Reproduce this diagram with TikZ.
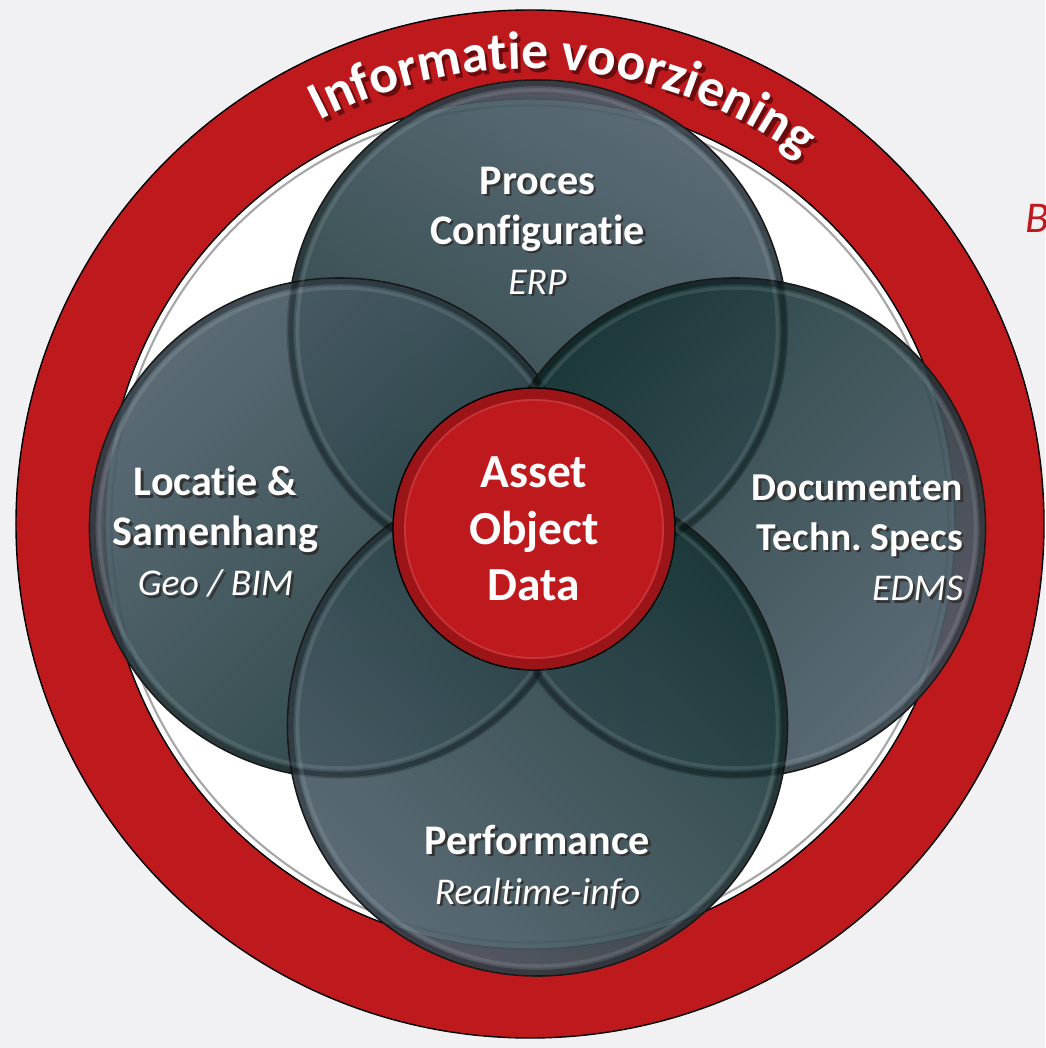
\documentclass[tikz,border=0pt]{standalone}
\usepackage{fontspec}
\setmainfont{Carlito}[Ligatures=NoCommon]
\usepackage{tikz}
\usetikzlibrary{decorations.text, shadings}
\definecolor{achtergrond}{HTML}{F1F1F3}
\definecolor{ringrood}{HTML}{BE1A1E}
\definecolor{schaduwrood}{HTML}{6A0B0D}
\definecolor{bollicht}{HTML}{4E5F6B}
\definecolor{boldonker}{HTML}{193636}
\newcommand{\ringletter}{\bfseries\fontsize{30.5}{30.5}\selectfont}
\newcommand{\schaduw}[1]{\rlap{\kern1.4pt\raisebox{-1.4pt}{\color{black!80}#1}}#1}
\newcommand{\onder}[1]{{\mdseries\itshape\fontsize{21.5}{28.5}\selectfont\schaduw{#1}}}
\frenchspacing

\begin{document}
\begin{tikzpicture}[
    bol/.style={circle, minimum size=10cm, inner sep=0pt, draw=black!90, line width=0.9pt,
      top color=bollicht, bottom color=boldonker, fill opacity=0.92},
    donkerrand/.style={black, opacity=0.3, line width=3pt},
    rand/.style={white, opacity=0.1, line width=2pt},
    titel/.style={text=white, align=center, font=\bfseries\fontsize{24}{28.5}\selectfont},
  ]
    \useasboundingbox (-10.6,-10.48) rectangle (10.3,10.48);
    \fill[achtergrond] (-10.6,-10.48) rectangle (10.3,10.48);

    % rode ring
    \coordinate (midden) at (0,0);
    \fill[ringrood, draw=black, line width=0.8pt] (midden) circle[radius=10.28];
    \fill[white, draw=black, line width=0.8pt] (midden) circle[radius=8.5];
    \draw[gray!70, line width=1.2pt] (midden) circle[radius=8.37];

    % vier bollen
    \node[bol, shading angle=-30] (proces) at (0.15,3.88) {};
    \node[bol, shading angle=45] (locatie) at (-3.81,-0.08) {};
    \node[bol, shading angle=-135] (documenten) at (4.11,-0.08) {};
    \node[bol, shading angle=135] (performance) at (0.15,-4.04) {};
    \foreach \b in {proces,locatie,documenten,performance} {
        \draw[donkerrand] (\b.center) circle[radius=4.93];
        \draw[rand] (\b.center) circle[radius=4.8];
    }

    % teksten
    \node[titel] (procestekst) at ([yshift=1.96cm]proces.center)
        {\schaduw{Proces}\\\schaduw{Configuratie}\\\onder{ERP}};
    \node[titel] (locatietekst) at ([shift={(-2.48,-0.1)}]locatie.center)
        {\schaduw{Locatie \&}\\\schaduw{Samenhang}\\\onder{Geo / BIM}};
    \node[titel, align=right, anchor=east, inner sep=0pt, font=\bfseries\fontsize{22.5}{28.5}\selectfont]
        (documententekst) at ([shift={(4.56,-0.22)}]documenten.center)
        {\schaduw{Documenten}\\\schaduw{Techn. Specs}\\\onder{EDMS}};
    \node[titel] (performancetekst) at ([yshift=-2.84cm]performance.center)
        {\schaduw{Performance}\\\onder{Realtime-info}};

    % kern
    \node[circle, minimum size=5.64cm, inner sep=0pt, fill=ringrood, draw=black, line width=0.8pt,
        text=white, align=center, font=\bfseries\fontsize{27}{32.3}\selectfont] (asset) at (0.08,-0.1)
        {Asset\\Object\\Data};
    \draw[black, opacity=0.18, line width=6pt] (asset.center) circle[radius=2.71];
    \draw[white, opacity=0.12, line width=1pt] (asset.center) circle[radius=2.58];

    % tekst op de ring
    \path[decorate, decoration={text along path, text align=center, text color=schaduwrood,
        text={|\ringletter|Informatie voorziening}}]
        ([shift={(0.07,-0.08)}]125.5:9.1) arc[start angle=125.5, end angle=45.5, radius=9.1];
    \path[decorate, decoration={text along path, text align=center, text color=white,
        text={|\ringletter|Informatie voorziening}}]
        (125.5:9.1) arc[start angle=125.5, end angle=45.5, radius=9.1];

    \node[anchor=base west, inner sep=0pt, text=ringrood, font=\itshape\fontsize{25}{25}\selectfont]
        (bijschrift) at (9.9,5.82) {B};
\end{tikzpicture}
\end{document}
